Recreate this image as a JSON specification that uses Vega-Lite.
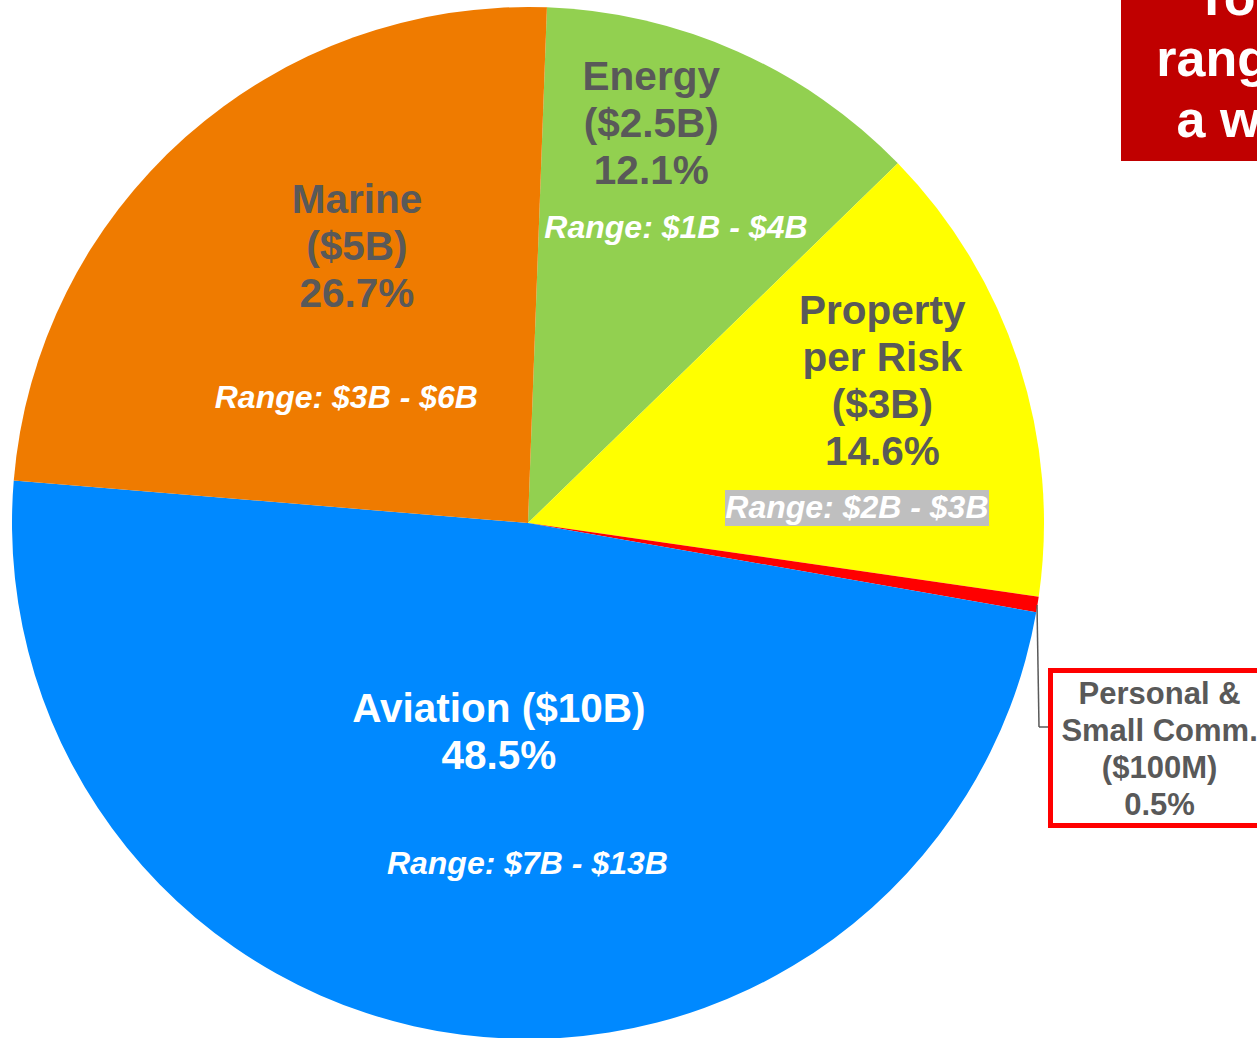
{
  "$schema": "https://vega.github.io/schema/vega-lite/v6.json",
  "width": 1056,
  "height": 1046,
  "autosize": {"type": "none"},
  "padding": {"left": 0, "top": 0, "right": 201, "bottom": 0},
  "background": "white",
  "config": {"view": {"stroke": null}, "text": {"lineBreak": "\n", "font": "Liberation Sans"}},
  "datasets": {
    "slices": [
      {"category": "Energy", "value": 2.5, "order": 1, "label": "Energy\n($2.5B)\n12.1%", "range": "Range: $1B - $4B"},
      {"category": "Property per Risk", "value": 3, "order": 2, "label": "Property\nper Risk\n($3B)\n14.6%", "range": "Range: $2B - $3B"},
      {"category": "Personal & Small Comm.", "value": 0.1, "order": 3, "label": "Personal &\nSmall Comm.\n($100M)\n0.5%", "range": ""},
      {"category": "Aviation", "value": 10, "order": 4, "label": "Aviation ($10B)\n48.5%", "range": "Range: $7B - $13B"},
      {"category": "Marine", "value": 5, "order": 5, "label": "Marine\n($5B)\n26.7%", "range": "Range: $3B - $6B"}
    ],
    "note": [{"text": "Total\nrange is\na wide"}]
  },
  "data": {"name": "slices"},
  "layer": [
    {
      "mark": {"type": "arc", "outerRadius": 516, "stroke": null},
      "encoding": {
        "theta": {"field": "value", "type": "quantitative", "stack": true, "scale": {"domain": [0, 20.6], "range": [0.0367, 6.3199]}},
        "order": {"field": "order", "type": "quantitative", "sort": "ascending"},
        "color": {"field": "category", "type": "nominal", "legend": null,
          "scale": {"domain": ["Energy", "Property per Risk", "Personal & Small Comm.", "Aviation", "Marine"],
                    "range": ["#92D050", "#FFFF00", "#FF0000", "#0089FF", "#EF7B00"]}}
      }
    },
    {
      "data": {"values": [{}]},
      "mark": {"type": "rect", "fill": "#BFBFBF"},
      "encoding": {"x": {"value": 725}, "x2": {"value": 989}, "y": {"value": 490}, "y2": {"value": 526}}
    },
    {
      "transform": [
        {"window": [{"op": "sum", "field": "value", "as": "cum"}], "sort": [{"field": "order"}]},
        {"calculate": "datum.cum - datum.value / 2", "as": "mid"},
        {"filter": "datum.category === 'Energy'"}
      ],
      "mark": {"type": "text", "radius": 417, "dx": -46, "dy": -64, "fontSize": 40.5, "fontWeight": "bold", "lineHeight": 47, "color": "#595959", "align": "center", "baseline": "middle"},
      "encoding": {"theta": {"field": "mid", "type": "quantitative", "stack": null}, "text": {"field": "label"}}
    },
    {
      "transform": [
        {"window": [{"op": "sum", "field": "value", "as": "cum"}], "sort": [{"field": "order"}]},
        {"calculate": "datum.cum - datum.value / 2", "as": "mid"},
        {"filter": "datum.category === 'Energy'"}
      ],
      "mark": {"type": "text", "radius": 330, "dx": 14, "dy": 7, "fontSize": 32, "fontWeight": "bold", "fontStyle": "italic", "color": "white", "align": "center", "baseline": "middle"},
      "encoding": {"theta": {"field": "mid", "type": "quantitative", "stack": null}, "text": {"field": "range"}}
    },
    {
      "transform": [
        {"window": [{"op": "sum", "field": "value", "as": "cum"}], "sort": [{"field": "order"}]},
        {"calculate": "datum.cum - datum.value / 2", "as": "mid"},
        {"filter": "datum.category === 'Property per Risk'"}
      ],
      "mark": {"type": "text", "radius": 381, "dx": -8, "dy": -93, "fontSize": 40.5, "fontWeight": "bold", "lineHeight": 47, "color": "#595959", "align": "center", "baseline": "middle"},
      "encoding": {"theta": {"field": "mid", "type": "quantitative", "stack": null}, "text": {"field": "label"}}
    },
    {
      "transform": [
        {"window": [{"op": "sum", "field": "value", "as": "cum"}], "sort": [{"field": "order"}]},
        {"calculate": "datum.cum - datum.value / 2", "as": "mid"},
        {"filter": "datum.category === 'Property per Risk'"}
      ],
      "mark": {"type": "text", "radius": 329, "dx": 16, "dy": 87, "fontSize": 32, "fontWeight": "bold", "fontStyle": "italic", "color": "white", "align": "center", "baseline": "middle"},
      "encoding": {"theta": {"field": "mid", "type": "quantitative", "stack": null}, "text": {"field": "range"}}
    },
    {
      "transform": [
        {"window": [{"op": "sum", "field": "value", "as": "cum"}], "sort": [{"field": "order"}]},
        {"calculate": "datum.cum - datum.value / 2", "as": "mid"},
        {"filter": "datum.category === 'Aviation'"}
      ],
      "mark": {"type": "text", "radius": 212, "dx": -2, "dy": -23, "fontSize": 40.5, "fontWeight": "bold", "lineHeight": 47, "color": "white", "align": "center", "baseline": "middle"},
      "encoding": {"theta": {"field": "mid", "type": "quantitative", "stack": null}, "text": {"field": "label"}}
    },
    {
      "transform": [
        {"window": [{"op": "sum", "field": "value", "as": "cum"}], "sort": [{"field": "order"}]},
        {"calculate": "datum.cum - datum.value / 2", "as": "mid"},
        {"filter": "datum.category === 'Aviation'"}
      ],
      "mark": {"type": "text", "radius": 341, "dx": 43, "dy": 3, "fontSize": 32, "fontWeight": "bold", "fontStyle": "italic", "color": "white", "align": "center", "baseline": "middle"},
      "encoding": {"theta": {"field": "mid", "type": "quantitative", "stack": null}, "text": {"field": "range"}}
    },
    {
      "transform": [
        {"window": [{"op": "sum", "field": "value", "as": "cum"}], "sort": [{"field": "order"}]},
        {"calculate": "datum.cum - datum.value / 2", "as": "mid"},
        {"filter": "datum.category === 'Marine'"}
      ],
      "mark": {"type": "text", "radius": 324, "dx": 44, "dy": -80, "fontSize": 40.5, "fontWeight": "bold", "lineHeight": 47, "color": "#595959", "align": "center", "baseline": "middle"},
      "encoding": {"theta": {"field": "mid", "type": "quantitative", "stack": null}, "text": {"field": "label"}}
    },
    {
      "transform": [
        {"window": [{"op": "sum", "field": "value", "as": "cum"}], "sort": [{"field": "order"}]},
        {"calculate": "datum.cum - datum.value / 2", "as": "mid"},
        {"filter": "datum.category === 'Marine'"}
      ],
      "mark": {"type": "text", "radius": 221, "dx": -35, "dy": 40, "fontSize": 32, "fontWeight": "bold", "fontStyle": "italic", "color": "white", "align": "center", "baseline": "middle"},
      "encoding": {"theta": {"field": "mid", "type": "quantitative", "stack": null}, "text": {"field": "range"}}
    },
    {
      "data": {"values": [{}]},
      "mark": {"type": "rule", "stroke": "#595959", "strokeWidth": 1.5},
      "encoding": {"x": {"value": 1037}, "y": {"value": 605}, "x2": {"value": 1039}, "y2": {"value": 727}}
    },
    {
      "data": {"values": [{}]},
      "mark": {"type": "rule", "stroke": "#595959", "strokeWidth": 1.5},
      "encoding": {"x": {"value": 1039}, "y": {"value": 727}, "x2": {"value": 1050}, "y2": {"value": 727}}
    },
    {
      "data": {"values": [{}]},
      "mark": {"type": "rect", "fill": "white", "stroke": "#FF0000", "strokeWidth": 5},
      "encoding": {"x": {"value": 1050.5}, "x2": {"value": 1320}, "y": {"value": 670.5}, "y2": {"value": 825.5}}
    },
    {
      "transform": [
        {"window": [{"op": "sum", "field": "value", "as": "cum"}], "sort": [{"field": "order"}]},
        {"calculate": "datum.cum - datum.value / 2", "as": "mid"},
        {"filter": "datum.category === 'Personal & Small Comm.'"}
      ],
      "mark": {"type": "text", "radius": 671, "dx": -31, "dy": 66, "fontSize": 31, "fontWeight": "bold", "lineHeight": 37, "color": "#595959", "align": "center", "baseline": "middle"},
      "encoding": {"theta": {"field": "mid", "type": "quantitative", "stack": null}, "text": {"field": "label"}}
    },
    {
      "data": {"values": [{}]},
      "mark": {"type": "rect", "fill": "#C00000"},
      "encoding": {"x": {"value": 1121}, "x2": {"value": 1420}, "y": {"value": -20}, "y2": {"value": 161}}
    },
    {
      "data": {"name": "note"},
      "mark": {"type": "text", "fontSize": 52, "fontWeight": "bold", "lineHeight": 61, "color": "white", "align": "center", "baseline": "middle"},
      "encoding": {"x": {"value": 1256}, "y": {"value": -1}, "text": {"field": "text"}}
    }
  ]
}
